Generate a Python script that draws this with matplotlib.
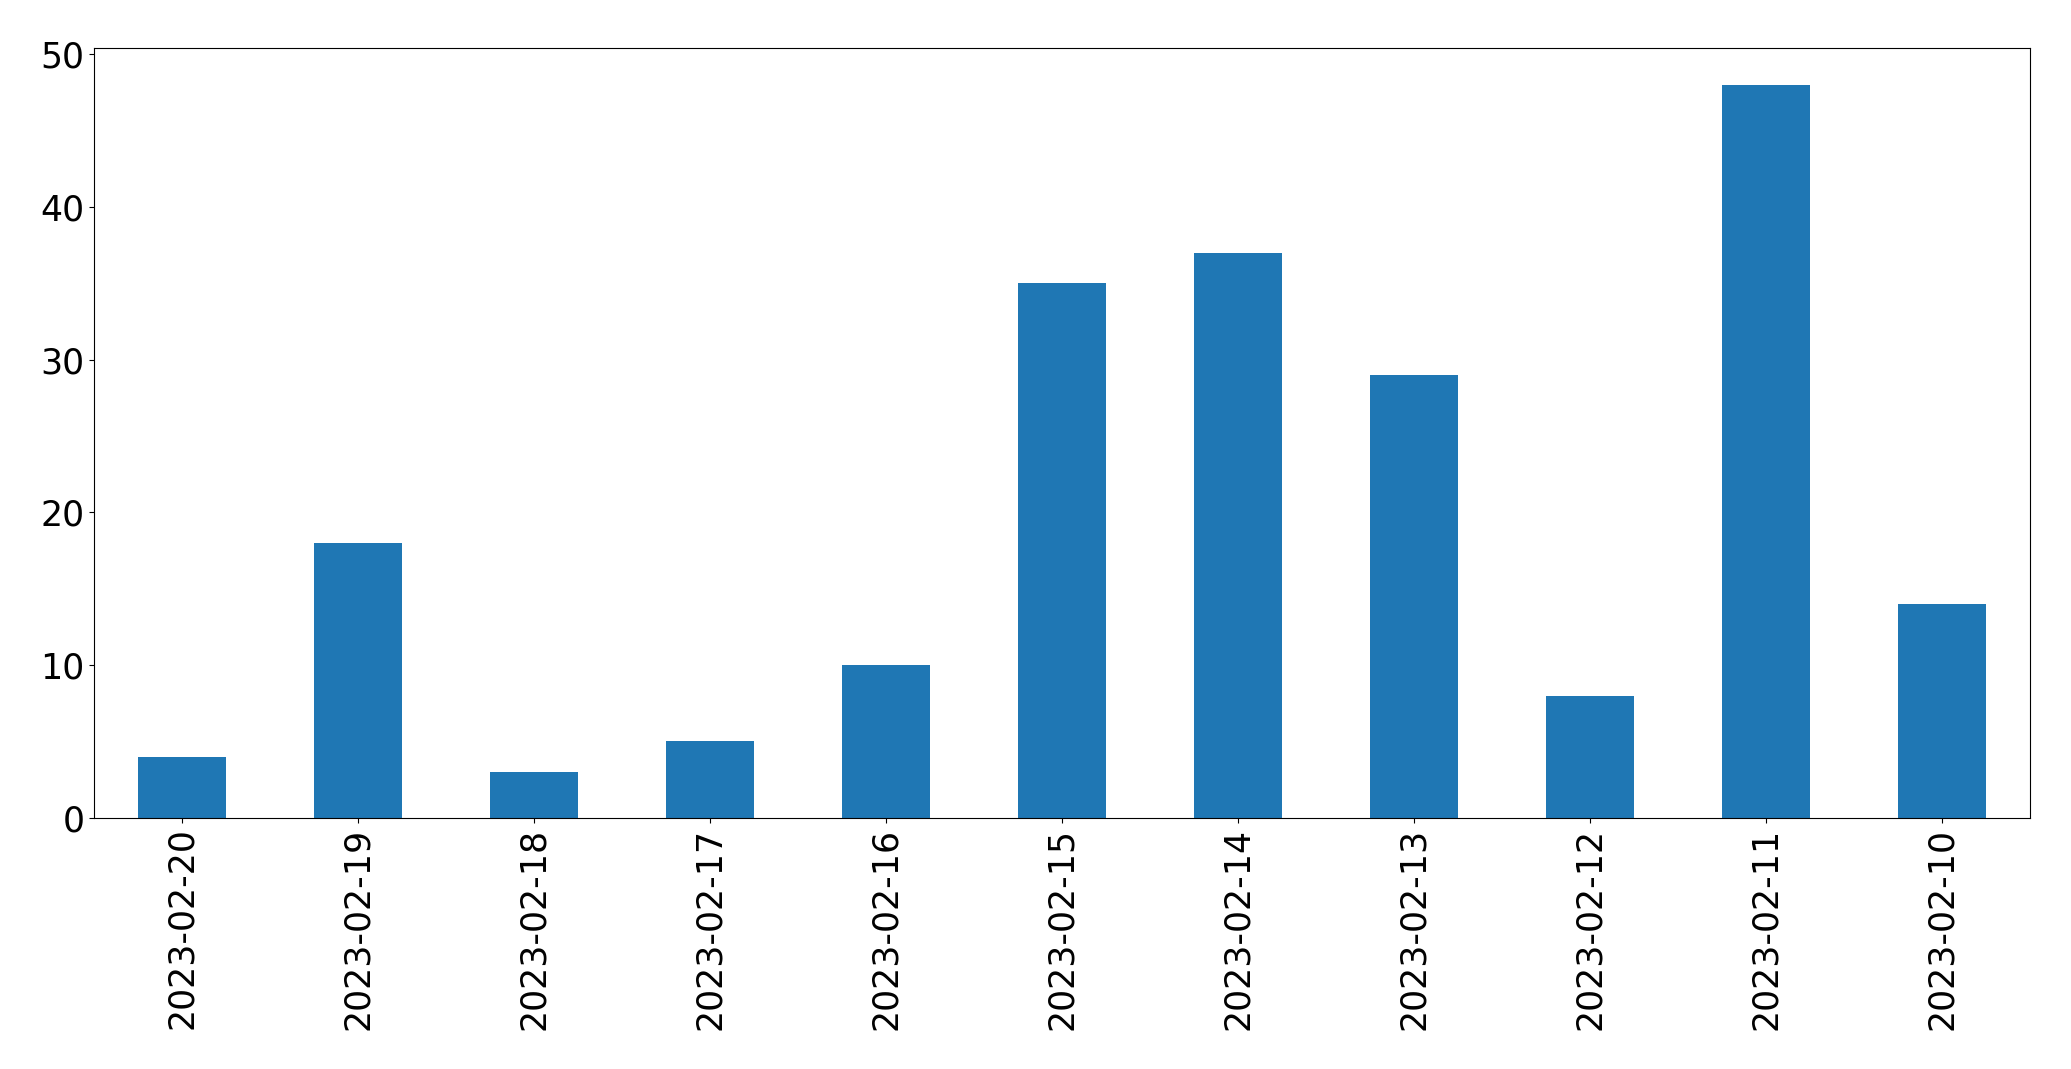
import matplotlib
matplotlib.use("Agg")
import matplotlib.pyplot as plt
import pandas as pd

dates = ["2023-02-20", "2023-02-19", "2023-02-18", "2023-02-17", "2023-02-16",
         "2023-02-15", "2023-02-14", "2023-02-13", "2023-02-12", "2023-02-11",
         "2023-02-10"]
counts = [4, 18, 3, 5, 10, 35, 37, 29, 8, 48, 14]

s = pd.Series(counts, index=dates)

fig, ax = plt.subplots(figsize=(20.71, 10.69), dpi=100)
s.plot(kind="bar", ax=ax, color="#1f77b4", fontsize=25)
ax.tick_params(axis="both", labelsize=25)
fig.subplots_adjust(left=0.0455, right=0.980, top=0.955, bottom=0.235)
fig.savefig("out.png", dpi=100)
